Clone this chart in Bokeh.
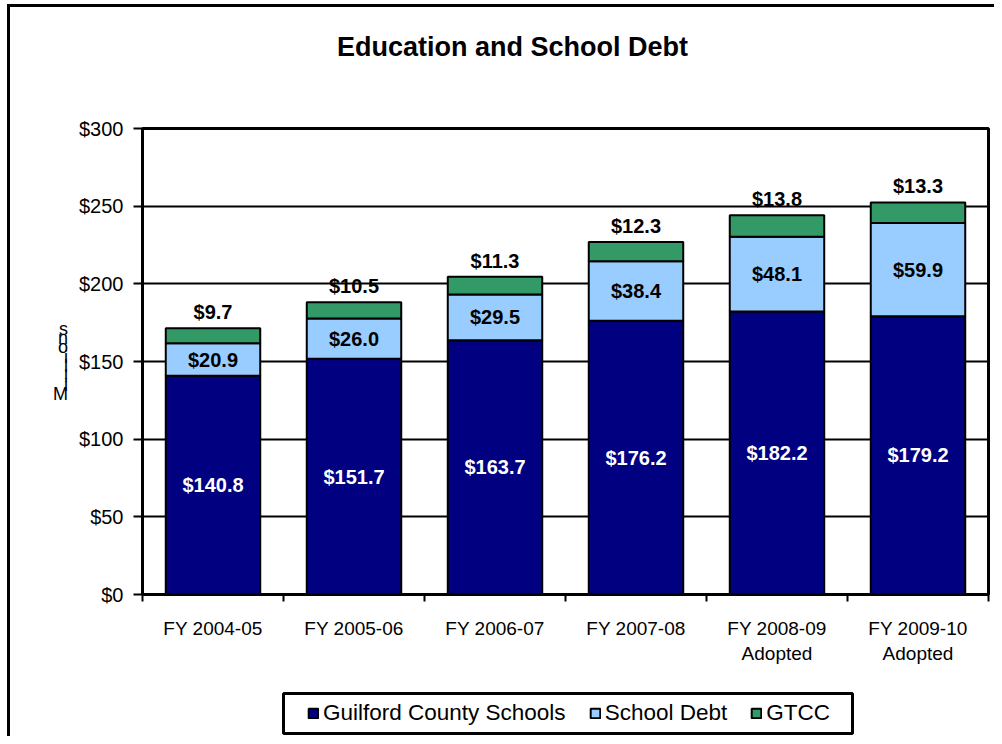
from bokeh.plotting import figure
from bokeh.layouts import column
from bokeh.models import (ColumnDataSource, Range1d, FixedTicker, NumeralTickFormatter,
                          Label, LabelSet, Legend, LegendItem, BoxAnnotation)
from bokeh.core.properties import value
from bokeh.embed import file_html
from bokeh.resources import INLINE

categories = ["FY 2004-05", "FY 2005-06", "FY 2006-07", "FY 2007-08",
              "FY 2008-09\nAdopted", "FY 2009-10\nAdopted"]
gcs = [140.8, 151.7, 163.7, 176.2, 182.2, 179.2]
debt = [20.9, 26.0, 29.5, 38.4, 48.1, 59.9]
gtcc = [9.7, 10.5, 11.3, 12.3, 13.8, 13.3]
series_names = ["Guilford County Schools", "School Debt", "GTCC"]
colors = ["#000080", "#99CCFF", "#339966"]
y_ticks = [0, 50, 100, 150, 200, 250, 300]
title_text = "Education and School Debt"
y_label = "Millions"

FONT = "Liberation Sans"
W = 984
NAN = float("nan")

# ---------- title strip (frame aligned with the chart frame by the column) ----------
pt = figure(width=W, height=90, x_range=Range1d(0, 1), y_range=Range1d(0, 1),
            output_backend="svg", toolbar_location=None,
            min_border=0, outline_line_color=None)
pt.axis.visible = False
pt.grid.visible = False
pt.add_layout(Label(x=370, y=51, x_units="screen", y_units="screen",
                    text=title_text, text_align="center", text_baseline="middle",
                    text_font=FONT, text_font_style="bold", text_font_size="27px",
                    text_color="black"))

# ---------- main chart ----------
x = list(range(len(categories)))
src = ColumnDataSource(dict(
    x=x, gcs=gcs, debt=debt, gtcc=gtcc,
    gcs_mid=[g / 2 for g in gcs],
    debt_mid=[g + d / 2 for g, d in zip(gcs, debt)],
    total=[g + d + t for g, d, t in zip(gcs, debt, gtcc)],
    gcs_lbl=["$%.1f" % v for v in gcs],
    debt_lbl=["$%.1f" % v for v in debt],
    gtcc_lbl=["$%.1f" % v for v in gtcc],
))

p = figure(width=W, height=582, x_range=Range1d(-0.5, len(categories) - 0.5),
           y_range=Range1d(0, 300), output_backend="svg", toolbar_location=None,
           min_border_left=132, min_border_right=6, min_border_top=31,
           min_border_bottom=85)

p.outline_line_color = "black"
p.outline_line_width = 3
p.xgrid.visible = False
p.ygrid.ticker = FixedTicker(ticks=y_ticks)
p.ygrid.grid_line_color = "black"
p.ygrid.grid_line_width = 2

# y axis
p.yaxis.ticker = FixedTicker(ticks=y_ticks)
p.yaxis.formatter = NumeralTickFormatter(format="$0")
p.yaxis.major_tick_out = 9
p.yaxis.major_tick_in = 0
p.yaxis.minor_tick_out = 0
p.yaxis.minor_tick_in = 0
p.yaxis.major_tick_line_width = 2
p.yaxis.axis_line_width = 3
p.yaxis.major_label_standoff = 10
p.yaxis.major_label_text_font = FONT
p.yaxis.major_label_text_font_size = "20px"
p.yaxis.major_label_text_color = "black"
# the reference shows the axis title as upright letters stacked bottom-to-top
p.yaxis.axis_label = "\n".join(reversed(y_label))
p.yaxis.axis_label_orientation = "horizontal"
p.yaxis.axis_label_text_font = FONT
p.yaxis.axis_label_text_font_style = "normal"
p.yaxis.axis_label_text_font_size = "18px"
p.yaxis.axis_label_text_line_height = 0.47
p.yaxis.axis_label_text_color = "black"
p.yaxis.axis_label_standoff = 8

# x axis
p.xaxis.ticker = FixedTicker(ticks=x, minor_ticks=[i - 0.5 for i in range(len(categories) + 1)])
p.xaxis.major_label_overrides = {i: c for i, c in enumerate(categories)}
p.xaxis.major_tick_out = 0
p.xaxis.major_tick_in = 0
p.xaxis.minor_tick_out = 7
p.xaxis.minor_tick_in = 0
p.xaxis.minor_tick_line_width = 2
p.xaxis.minor_tick_line_color = "black"
p.xaxis.axis_line_width = 3
p.xaxis.major_label_standoff = 16
p.xaxis.major_label_text_font = FONT
p.xaxis.major_label_text_font_size = "19px"
p.xaxis.major_label_text_color = "black"

p.vbar_stack(["gcs", "debt", "gtcc"], x="x", width=0.67, source=src,
             fill_color=colors, line_color="black", line_width=2)

common = dict(source=src, text_align="center", text_font=value(FONT),
              text_font_style="bold", text_font_size="20px")
p.add_layout(LabelSet(x="x", y="gcs_mid", text="gcs_lbl", text_baseline="middle",
                      text_color="white", **common))
p.add_layout(LabelSet(x="x", y="debt_mid", text="debt_lbl", text_baseline="middle",
                      text_color="black", **common))
p.add_layout(LabelSet(x="x", y="total", text="gtcc_lbl", y_offset=5, text_baseline="bottom",
                      text_color="black", **common))

# ---------- legend strip ----------
pl = figure(width=W, height=57, x_range=Range1d(0, 1), y_range=Range1d(0, 1),
            output_backend="svg", toolbar_location=None,
            min_border=0, outline_line_color=None)
pl.axis.visible = False
pl.grid.visible = False
pl.add_layout(BoxAnnotation(left=141, right=710, bottom=3, top=43,
                            left_units="screen", right_units="screen",
                            bottom_units="screen", top_units="screen",
                            fill_alpha=0, line_color="black", line_width=3, line_alpha=1.0))
items = []
for name, c in zip(series_names, colors):
    # a renderer with a single undrawn (NaN) bar, so that the legend has a glyph style
    r = pl.vbar(x=[NAN], bottom=[NAN], top=[NAN], width=0.01, fill_color=c,
                line_color="black", line_width=2)
    items.append(LegendItem(label=name, renderers=[r]))
legend = Legend(items=items, orientation="horizontal", location=(165, 10),
                border_line_color=None, background_fill_alpha=0.0,
                label_text_font=FONT, label_text_font_size="22.5px",
                label_text_color="black",
                glyph_width=12, glyph_height=12, spacing=23, padding=0, margin=0,
                label_standoff=4)
pl.add_layout(legend)

layout = column(pt, p, pl, spacing=0)
layout.styles = {"border-left": "3px solid black", "border-top": "3px solid black",
                 "margin-left": "7px", "margin-top": "4px"}

open("out.html", "w").write(file_html(layout, INLINE))
